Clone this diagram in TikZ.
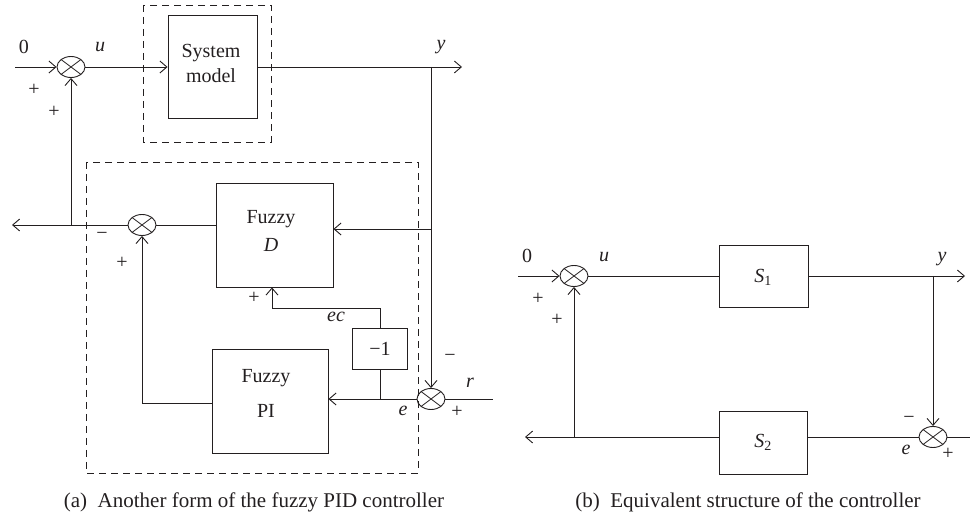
\documentclass[tikz,border=0pt]{standalone}
\usepackage{fontspec}
\setmainfont{Liberation Serif}
\usetikzlibrary{shapes.geometric,arrows.meta}
\definecolor{ink}{RGB}{35,31,32}
\begin{document}
\begin{tikzpicture}[x=1pt,y=-1pt,
  every node/.style={font=\fontsize{20}{24}\selectfont, text=ink},
  ln/.style={draw=ink,line width=0.9pt},
  arr/.style={draw=ink,line width=0.9pt,-{Straight Barb[length=7pt,width=12pt,line width=0.9pt]}},
  blk/.style={draw=ink,line width=0.9pt,rectangle,inner sep=0},
  sumn/.style={ellipse,draw=ink,line width=0.9pt,inner sep=0,minimum width=28pt,minimum height=21pt,
    path picture={\draw[ink,line width=0.8pt] (path picture bounding box.north west) -- (path picture bounding box.south east)
      (path picture bounding box.north east) -- (path picture bounding box.south west);}},
  dsh/.style={draw=ink,line width=0.9pt,dash pattern=on 7pt off 5pt},
  lbl/.style={inner sep=0},
  captxt/.style={inner sep=0,font=\fontsize{21}{25}\selectfont}
]
\useasboundingbox (0,0) rectangle (970,518);

% ---------------- panel (a) ----------------
\draw[dsh] (143,5) rectangle (271,142);
\draw[dsh] (86,162) rectangle (418,473);

\coordinate (in0) at (15,67);
\node[sumn] (s1) at (71,67) {};
\node[blk,minimum width=89pt,minimum height=103pt] (sys) at (212.5,67) {};
\node[lbl,align=center] (systxt) at (211,63) {System\\[1pt]model};
\coordinate (ybr) at (431,67);
\coordinate (yout) at (462,67);
\node[sumn] (s3) at (431,399) {};
\coordinate (rin) at (493,399);

\node[blk,minimum width=117pt,minimum height=104pt] (fd) at (274.5,235) {};
\node[lbl,align=center] (fdtxt) at (271,231) {Fuzzy\\[4pt]\textit{D}};
\node[blk,minimum width=116pt,minimum height=104pt] (pi) at (270,401) {};
\node[lbl,align=center] (pitxt) at (266,393) {Fuzzy\\[11pt]PI};
\node[blk,minimum width=55pt,minimum height=41pt] (neg) at (380,348.5) {};
\node[lbl] (negtxt) at (380,349) {−1};

\node[sumn] (s2) at (142,225) {};
\coordinate (fbl) at (12,225);
\coordinate (fbj) at (71,225);
\coordinate (dbr) at (431,229);
\coordinate (ej) at (380,399);
\coordinate (ect) at (272,308);
\coordinate (pio) at (142,403);

\draw[arr] (in0) -- (s1);
\draw[arr] (s1) -- (sys);
\draw[arr] (sys.east |- ybr) -- (yout);
\draw[arr] (ybr) -- (s3);
\draw[arr] (dbr) -- (dbr -| fd.east);
\draw[ln] (s2) -- (s2 -| fd.west);
\draw[arr] (s2) -- (fbl);
\draw[arr] (fbj) -- (s1);
\draw[ln] (s3) -- (rin);
\draw[arr] (s3) -- (s3 -| pi.east);
\draw[ln] (ej) -- (neg);
\draw[arr] (neg.north) |- (ect) -- (ect |- fd.south);
\draw[arr] (pio -| pi.west) -- (pio) -- (s2);

\node[lbl] (l0) at (24,47) {0};
\node[lbl] (lu) at (100,47) {\textit{u}};
\node[lbl] (lp1) at (34,90) {+};
\node[lbl] (lp2) at (54,112) {+};
\node[lbl] (ly) at (441,47) {\textit{y}};
\node[lbl] (lm2) at (102,236) {−};
\node[lbl] (lp3) at (122,263) {+};
\node[lbl] (lp4) at (254,298) {+};
\node[lbl] (lec) at (336,317) {\textit{ec}};
\node[lbl] (le) at (403,411) {\textit{e}};
\node[lbl] (lm3) at (450,358) {−};
\node[lbl] (lr) at (470,383) {\textit{r}};
\node[lbl] (lp5) at (457,412) {+};

\node[captxt] (capa) at (254,502) {(a)\hspace{0.5em}Another form of the fuzzy PID controller};

% ---------------- panel (b) ----------------
\coordinate (in0b) at (518,276);
\node[sumn] (s4) at (574,276) {};
\node[blk,minimum width=89pt,minimum height=62pt] (sa) at (763.5,276) {};
\node[lbl] (satxt) at (763,277) {\textit{S}\textsubscript{1}};
\coordinate (ybr2) at (933,276);
\coordinate (yout2) at (965,276);
\node[sumn] (s5) at (933,437) {};
\coordinate (rin2) at (975,437);
\node[blk,minimum width=88pt,minimum height=63pt] (sb) at (763,442.5) {};
\node[lbl] (sbtxt) at (763,442) {\textit{S}\textsubscript{2}};
\coordinate (fbl2) at (525,437);
\coordinate (fbj2) at (574,437);

\draw[arr] (in0b) -- (s4);
\draw[ln] (s4) -- (s4 -| sa.west);
\draw[arr] (sa.east) -- (yout2);
\draw[arr] (ybr2) -- (s5);
\draw[ln] (s5) -- (rin2);
\draw[ln] (s5) -- (s5 -| sb.east);
\draw[arr] (s5 -| sb.west) -- (fbl2);
\draw[arr] (fbj2) -- (s4);

\node[lbl] (l0b) at (527,256) {0};
\node[lbl] (lub) at (604,257) {\textit{u}};
\node[lbl] (lp1b) at (538,299) {+};
\node[lbl] (lp2b) at (557,320) {+};
\node[lbl] (lyb) at (942,259) {\textit{y}};
\node[lbl] (lm5) at (909,420) {−};
\node[lbl] (leb) at (906,450) {\textit{e}};
\node[lbl] (lp5b) at (948,454) {+};

\node[captxt] (capb) at (748,502) {(b)\hspace{0.5em}Equivalent structure of the controller};
\end{tikzpicture}
\end{document}
